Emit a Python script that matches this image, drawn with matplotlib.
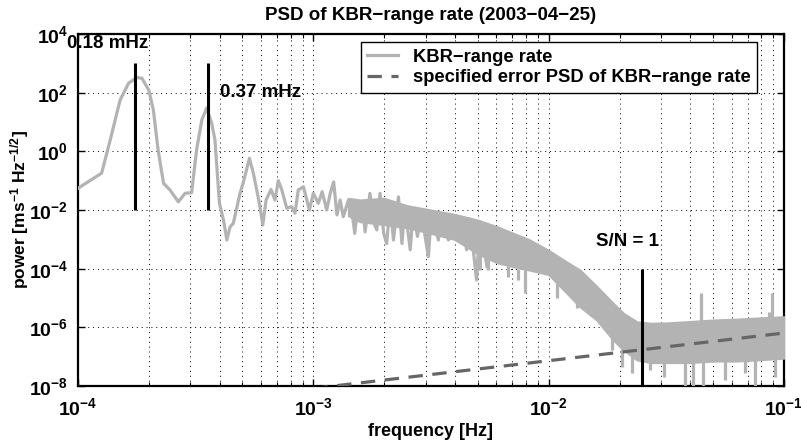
import matplotlib
matplotlib.use("Agg")
import matplotlib.pyplot as plt
import numpy as np
from matplotlib.ticker import LogLocator, NullFormatter, FixedLocator

plt.rcParams['font.family'] = ['Liberation Sans', 'DejaVu Sans']
plt.rcParams['font.weight'] = 'bold'
plt.rcParams['mathtext.fontset'] = 'custom'
plt.rcParams['mathtext.rm'] = 'Liberation Sans:bold'
plt.rcParams['mathtext.bf'] = 'Liberation Sans:bold'
plt.rcParams['mathtext.it'] = 'Liberation Sans:bold:italic'
plt.rcParams['mathtext.default'] = 'bf'

# ---- data ----
psd_freq = [1.0e-4, 1.26e-4, 1.37e-4, 1.51e-4, 1.64e-4, 1.78e-4, 1.87e-4, 2.0e-4, 2.09e-4,
            2.19e-4, 2.31e-4, 2.46e-4, 2.67e-4, 2.85e-4, 3.04e-4, 3.19e-4, 3.36e-4, 3.52e-4,
            3.70e-4, 3.82e-4, 3.99e-4, 4.15e-4, 4.29e-4, 4.43e-4, 4.57e-4, 4.88e-4, 5.05e-4,
            5.35e-4, 5.56e-4, 5.75e-4, 5.93e-4, 6.10e-4, 6.30e-4, 6.61e-4, 6.87e-4, 7.10e-4,
            7.35e-4, 7.71e-4, 8.09e-4, 8.36e-4, 8.63e-4, 9.08e-4, 9.62e-4, 1.0e-3, 1.05e-3,
            1.09e-3, 1.14e-3, 1.18e-3, 1.22e-3, 1.26e-3, 1.30e-3, 1.34e-3, 1.41e-3, 1.45e-3,
            1.50e-3, 1.55e-3, 1.63e-3, 1.66e-3, 1.74e-3, 1.80e-3, 1.86e-3, 1.92e-3, 1.99e-3,
            2.05e-3, 2.12e-3, 2.19e-3, 2.30e-3, 2.38e-3, 2.45e-3, 2.58e-3, 2.66e-3, 2.77e-3,
            2.88e-3, 3.08e-3, 3.18e-3, 3.40e-3, 3.51e-3, 3.75e-3, 3.94e-3, 4.13e-3, 4.34e-3,
            4.48e-3, 4.62e-3, 4.94e-3, 5.10e-3, 5.46e-3]
psd_vals = [5.5e-2, 0.18, 2.4, 56, 210, 330, 310, 120, 26,
            1.1, 8.1e-2, 4.8e-2, 1.9e-2, 3.7e-2, 3.9e-2, 1.1, 12, 30,
            9.1, 2.4, 1.7e-2, 4.6e-3, 9.5e-4, 2.7e-3, 3.5e-3, 3.7e-2, 9.1e-2,
            0.58, 0.18, 4.8e-2, 1.3e-2, 3.1e-3, 2.2e-2, 5.0e-2, 2.2e-2, 0.10,
            4.8e-2, 1.15e-2, 1.3e-2, 7.8e-3, 4.8e-2, 6.2e-2, 1.0e-2, 3.7e-2, 1.7e-2,
            4.2e-2, 1.0e-2, 3.7e-2, 9.1e-2, 6.8e-3, 2.2e-2, 5.9e-3, 2.2e-2, 1.26e-2,
            1.6e-3, 1.7e-2, 6.8e-3, 1.8e-3, 3.7e-2, 4.0e-3, 2.1e-3, 3.7e-2, 1.6e-3,
            7.2e-4, 1.7e-2, 9.5e-4, 2.8e-2, 7.2e-4, 1.3e-2, 4.4e-4, 1.0e-2, 1.26e-3,
            7.8e-3, 2.6e-4, 7.8e-3, 9.5e-4, 7.1e-3, 9.5e-4, 5.9e-3, 1.2e-3, 4.6e-3,
            4.4e-4, 5.0e-3, 4.1e-5, 4.0e-3, 1.2e-4]

band_freq = [1.41e-3, 1.58e-3, 2.0e-3, 2.51e-3, 3.16e-3, 3.98e-3, 5.01e-3, 6.03e-3, 7.08e-3,
             8.32e-3, 1.0e-2, 1.16e-2, 1.36e-2, 1.6e-2, 1.88e-2, 2.08e-2, 2.37e-2, 2.70e-2,
             3.16e-2, 3.98e-2, 5.01e-2, 6.31e-2, 7.94e-2, 1.0e-1]
band_hi = [2.5e-2, 2.2e-2, 2.5e-2, 1.4e-2, 1.0e-2, 7.1e-3, 4.5e-3, 2.7e-3, 1.6e-3,
           9.5e-4, 4.2e-4, 1.95e-4, 8.9e-5, 2.5e-5, 6.6e-6, 3.0e-6, 1.55e-6, 1.38e-6,
           1.41e-6, 1.58e-6, 1.78e-6, 1.9e-6, 2.1e-6, 2.3e-6]
band_lo = [6.3e-3, 4.0e-3, 3.2e-3, 2.5e-3, 1.6e-3, 1.0e-3, 3.2e-4, 1.6e-4, 1.17e-4,
           8.9e-5, 6.3e-5, 1.86e-5, 5.0e-6, 1.78e-6, 3.7e-7, 1.7e-7, 7.8e-8, 6.3e-8,
           6.3e-8, 6.3e-8, 7.1e-8, 7.1e-8, 7.9e-8, 8.9e-8]

spike_freq = [3.08e-3, 5.10e-3, 5.55e-3, 6.75e-3, 7.43e-3, 7.94e-3, 1.08e-2, 1.32e-2,
              1.74e-2, 1.85e-2, 2.04e-2, 2.25e-2, 2.70e-2, 3.08e-2, 3.80e-2, 4.12e-2,
              4.54e-2, 5.62e-2, 6.84e-2, 7.53e-2, 9.18e-2]
spike_lo = [2.8e-4, 8.9e-5, 8.9e-5, 5.4e-5, 4.1e-5, 1.45e-5, 9.8e-6, 4.5e-6,
            8.1e-7, 1.7e-7, 4.6e-8, 2.7e-8, 3.5e-8, 2.1e-8, 8e-9, 8e-9,
            8e-9, 1.6e-8, 2.7e-8, 8e-9, 2.1e-8]
spike_hi = [2.5e-3, 3.2e-4, 3.2e-4, 1.2e-4, 1.0e-4, 1.0e-4, 6.3e-5, 2.0e-5,
            3.2e-6, 1.0e-6, 3.2e-7, 1.6e-7, 1.0e-7, 1.0e-7, 1.0e-7, 1.0e-7,
            1.0e-7, 1.0e-7, 1.0e-7, 1.0e-7, 1.0e-7]
upspike_freq = [4.43e-2, 8.60e-2, 8.87e-2]
upspike_hi = [1.45e-5, 3.4e-6, 1.5e-5]
upspike_lo = [1.6e-6, 1.6e-6, 1.6e-6]

err_freq = [1.0e-3, 1.0e-1]
err_psd = [8.3e-9, 6.4e-7]

marker_freq = [1.75e-4, 3.58e-4, 2.5e-2]
marker_lo = [1e-2, 1e-2, 1e-8]
marker_hi = [1e3, 1e3, 1e-4]

gray = '#b3b3b3'
dgray = '#666666'

fig = plt.figure(figsize=(8.01, 4.43), dpi=100)
ax = fig.add_axes([78/801, 1-386/443, 706/801, 352/443])
ax.set_xscale('log')
ax.set_yscale('log')

lw = 2.3
line, = ax.plot(psd_freq, psd_vals, color=gray, lw=lw, label='KBR\u2212range rate', zorder=3)
ax.fill_between(band_freq, band_lo, band_hi, color=gray, lw=1.5, edgecolor=gray, zorder=3)
ax.vlines(spike_freq, spike_lo, spike_hi, color=gray, lw=lw, zorder=3)
ax.vlines(upspike_freq, upspike_lo, upspike_hi, color=gray, lw=lw, zorder=3)
ax.plot(err_freq, err_psd, color=dgray, lw=2.3, ls=(0, (4.5, 3)),
        label='specified error PSD of KBR\u2212range rate', zorder=4)
ax.vlines(marker_freq, marker_lo, marker_hi, color='black', lw=2.2, zorder=5)

ax.set_xlim(1e-4, 1e-1)
ax.set_ylim(1e-8, 1e4)
ax.yaxis.set_major_locator(FixedLocator([1e-8, 1e-6, 1e-4, 1e-2, 1e0, 1e2, 1e4]))
ax.yaxis.set_minor_locator(FixedLocator([]))
ax.xaxis.set_major_locator(LogLocator(base=10, numticks=10))
ax.xaxis.set_minor_locator(LogLocator(base=10, subs=np.arange(2, 10), numticks=20))
ax.xaxis.set_minor_formatter(NullFormatter())

ax.grid(True, which='major', axis='both', ls=(0, (1, 4)), color='black', lw=0.7)
ax.grid(True, which='minor', axis='x', ls=(0, (1, 4)), color='black', lw=0.7)
ax.tick_params(which='both', direction='in', top=True, right=True, labelsize=14)
ax.tick_params(axis='x', pad=8)
ax.tick_params(axis='y', pad=7)
ax.tick_params(which='major', length=5, width=1)
ax.tick_params(which='minor', length=3, width=0.8)
for s in ax.spines.values():
    s.set_linewidth(1.6)

ax.set_title('PSD of KBR\u2212range rate (2003\u221204\u221225)', fontsize=13.5, fontweight='bold', pad=10)
ax.set_xlabel('frequency [Hz]', fontsize=13, fontweight='bold', labelpad=3)
ax.set_ylabel(r'power [ms$^{-1}$ Hz$^{-1/2}$]', fontsize=12.5, fontweight='bold')
ax.yaxis.set_label_coords(-0.066, 0.5)

ax.text(8.98e-5, 10**3.69, '0.18 mHz', fontsize=13.5, fontweight='bold', va='center', ha='left',
        clip_on=False, zorder=6)
ax.text(4.0e-4, 10**1.99, '0.37 mHz', fontsize=13.5, fontweight='bold', va='center', ha='left', zorder=6)
ax.text(1.59e-2, 10**-3.09, 'S/N = 1', fontsize=13.5, fontweight='bold', va='center', ha='left', zorder=6)

leg = ax.legend(loc='upper right', bbox_to_anchor=(0.962, 0.977), fontsize=13.2, frameon=True,
                fancybox=False, handlelength=1.7, borderpad=0.35, labelspacing=0.2,
                handletextpad=0.8, borderaxespad=0)
leg.get_frame().set_edgecolor('black')
leg.get_frame().set_linewidth(1.0)
leg.get_frame().set_alpha(1)
leg.set_zorder(10)

fig.savefig('out.png', dpi=100)
